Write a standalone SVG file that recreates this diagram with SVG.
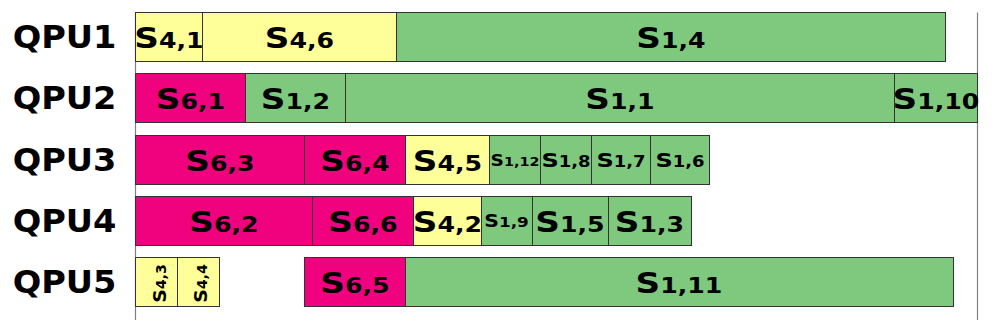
<svg xmlns="http://www.w3.org/2000/svg" width="997" height="332" viewBox="0 0 997 332">
<style>
rect{stroke:#333;stroke-width:1}
.g{fill:#7fc97f}.y{fill:#ffff99}.p{fill:#f0027f}
text{font-family:"DejaVu Sans","Liberation Sans",sans-serif;font-weight:bold;fill:#000;text-anchor:middle}
.q{font-size:32px;text-anchor:end}
.n .s{font-size:28.5px}.n .d{font-size:21px}
.m .s{font-size:20px}.m .d{font-size:15px}
.t .s{font-size:15.5px}.t .d{font-size:12px}
.u .s{font-size:17px}.u .d{font-size:14px}
.r .s{font-size:18px}.r .d{font-size:13.5px}
.ax{stroke:#808080;stroke-width:1.2;fill:none}
</style>
<g id="axes">
<line class="ax" x1="135.5" y1="12.5" x2="135.5" y2="320"/>
<line class="ax" x1="977.5" y1="12.5" x2="977.5" y2="320"/>
</g>
<g id="qpu-labels">
<text class="q" transform="translate(116.5,47.5) scale(1.05,1)">QPU1</text>
<text class="q" transform="translate(116.5,108.5) scale(1.05,1)">QPU2</text>
<text class="q" transform="translate(116.5,170.5) scale(1.05,1)">QPU3</text>
<text class="q" transform="translate(116.5,231.5) scale(1.05,1)">QPU4</text>
<text class="q" transform="translate(116.5,292.5) scale(1.05,1)">QPU5</text>
</g>
<g id="connectors"/>
<!-- Row 1 -->
<g id="S4_1"><rect class="y" x="135.5" y="12.5" width="67" height="49"/><text class="n" transform="translate(169,47.5) scale(1.2,1)"><tspan class="s">S</tspan><tspan class="d">4,1</tspan></text></g>
<g id="S4_6"><rect class="y" x="202.5" y="12.5" width="194" height="49"/><text class="n" transform="translate(299.5,47.5) scale(1.2,1)"><tspan class="s">S</tspan><tspan class="d">4,6</tspan></text></g>
<g id="S1_4"><rect class="g" x="396.5" y="12.5" width="549" height="49"/><text class="n" transform="translate(671,47.5) scale(1.2,1)"><tspan class="s">S</tspan><tspan class="d">1,4</tspan></text></g>
<!-- Row 2 -->
<g id="S6_1"><rect class="p" x="135.5" y="73.5" width="110" height="49"/><text class="n" transform="translate(190.5,108.5) scale(1.2,1)"><tspan class="s">S</tspan><tspan class="d">6,1</tspan></text></g>
<g id="S1_2"><rect class="g" x="245.5" y="73.5" width="100" height="49"/><text class="n" transform="translate(295.5,108.5) scale(1.2,1)"><tspan class="s">S</tspan><tspan class="d">1,2</tspan></text></g>
<g id="S1_1"><rect class="g" x="345.5" y="73.5" width="549" height="49"/><text class="n" transform="translate(620,108.5) scale(1.2,1)"><tspan class="s">S</tspan><tspan class="d">1,1</tspan></text></g>
<g id="S1_10"><rect class="g" x="894.5" y="73.5" width="83" height="49"/><text class="n" transform="translate(936,108.5) scale(1.2,1)"><tspan class="s">S</tspan><tspan class="d">1,10</tspan></text></g>
<!-- Row 3 -->
<g id="S6_3"><rect class="p" x="135.5" y="135.5" width="169" height="49"/><text class="n" transform="translate(220,170.5) scale(1.2,1)"><tspan class="s">S</tspan><tspan class="d">6,3</tspan></text></g>
<g id="S6_4"><rect class="p" x="304.5" y="135.5" width="101" height="49"/><text class="n" transform="translate(355,170.5) scale(1.2,1)"><tspan class="s">S</tspan><tspan class="d">6,4</tspan></text></g>
<g id="S4_5"><rect class="y" x="405.5" y="135.5" width="84" height="49"/><text class="n" transform="translate(447.5,170.5) scale(1.2,1)"><tspan class="s">S</tspan><tspan class="d">4,5</tspan></text></g>
<g id="S1_12"><rect class="g" x="489.5" y="135.5" width="51" height="49"/><text class="t" transform="translate(515,165.7) scale(1.2,1)"><tspan class="s">S</tspan><tspan class="d">1,12</tspan></text></g>
<g id="S1_8"><rect class="g" x="540.5" y="135.5" width="51" height="49"/><text class="m" transform="translate(566,167.4) scale(1.2,1)"><tspan class="s">S</tspan><tspan class="d">1,8</tspan></text></g>
<g id="S1_7"><rect class="g" x="591.5" y="135.5" width="59" height="49"/><text class="m" transform="translate(621,167.4) scale(1.2,1)"><tspan class="s">S</tspan><tspan class="d">1,7</tspan></text></g>
<g id="S1_6"><rect class="g" x="650.5" y="135.5" width="59" height="49"/><text class="m" transform="translate(680,167.4) scale(1.2,1)"><tspan class="s">S</tspan><tspan class="d">1,6</tspan></text></g>
<!-- Row 4 -->
<g id="S6_2"><rect class="p" x="135.5" y="196.5" width="177" height="49"/><text class="n" transform="translate(224,231.5) scale(1.2,1)"><tspan class="s">S</tspan><tspan class="d">6,2</tspan></text></g>
<g id="S6_6"><rect class="p" x="312.5" y="196.5" width="101" height="49"/><text class="n" transform="translate(363,231.5) scale(1.2,1)"><tspan class="s">S</tspan><tspan class="d">6,6</tspan></text></g>
<g id="S4_2"><rect class="y" x="413.5" y="196.5" width="68" height="49"/><text class="n" transform="translate(447.5,231.5) scale(1.2,1)"><tspan class="s">S</tspan><tspan class="d">4,2</tspan></text></g>
<g id="S1_9"><rect class="g" x="481.5" y="196.5" width="51" height="49"/><text class="u" transform="translate(506.5,227.3) scale(1.2,1)"><tspan class="s">S</tspan><tspan class="d">1,9</tspan></text></g>
<g id="S1_5"><rect class="g" x="532.5" y="196.5" width="76" height="49"/><text class="n" transform="translate(570,231.5) scale(1.2,1)"><tspan class="s">S</tspan><tspan class="d">1,5</tspan></text></g>
<g id="S1_3"><rect class="g" x="608.5" y="196.5" width="83" height="49"/><text class="n" transform="translate(649.5,231.5) scale(1.2,1)"><tspan class="s">S</tspan><tspan class="d">1,3</tspan></text></g>
<!-- Row 5 -->
<g id="S4_3"><rect class="y" x="135.5" y="257.5" width="42" height="49"/><text class="r" transform="translate(165.5,283.5) rotate(-90) scale(1.05,1)"><tspan class="s">S</tspan><tspan class="d">4,3</tspan></text></g>
<g id="S4_4"><rect class="y" x="177.5" y="257.5" width="42" height="49"/><text class="r" transform="translate(207,283.5) rotate(-90) scale(1.05,1)"><tspan class="s">S</tspan><tspan class="d">4,4</tspan></text></g>
<g id="S6_5"><rect class="p" x="304.5" y="257.5" width="101" height="49"/><text class="n" transform="translate(355,292.5) scale(1.2,1)"><tspan class="s">S</tspan><tspan class="d">6,5</tspan></text></g>
<g id="S1_11"><rect class="g" x="405.5" y="257.5" width="548" height="49"/><text class="n" transform="translate(679,292.5) scale(1.2,1)"><tspan class="s">S</tspan><tspan class="d">1,11</tspan></text></g>
</svg>
